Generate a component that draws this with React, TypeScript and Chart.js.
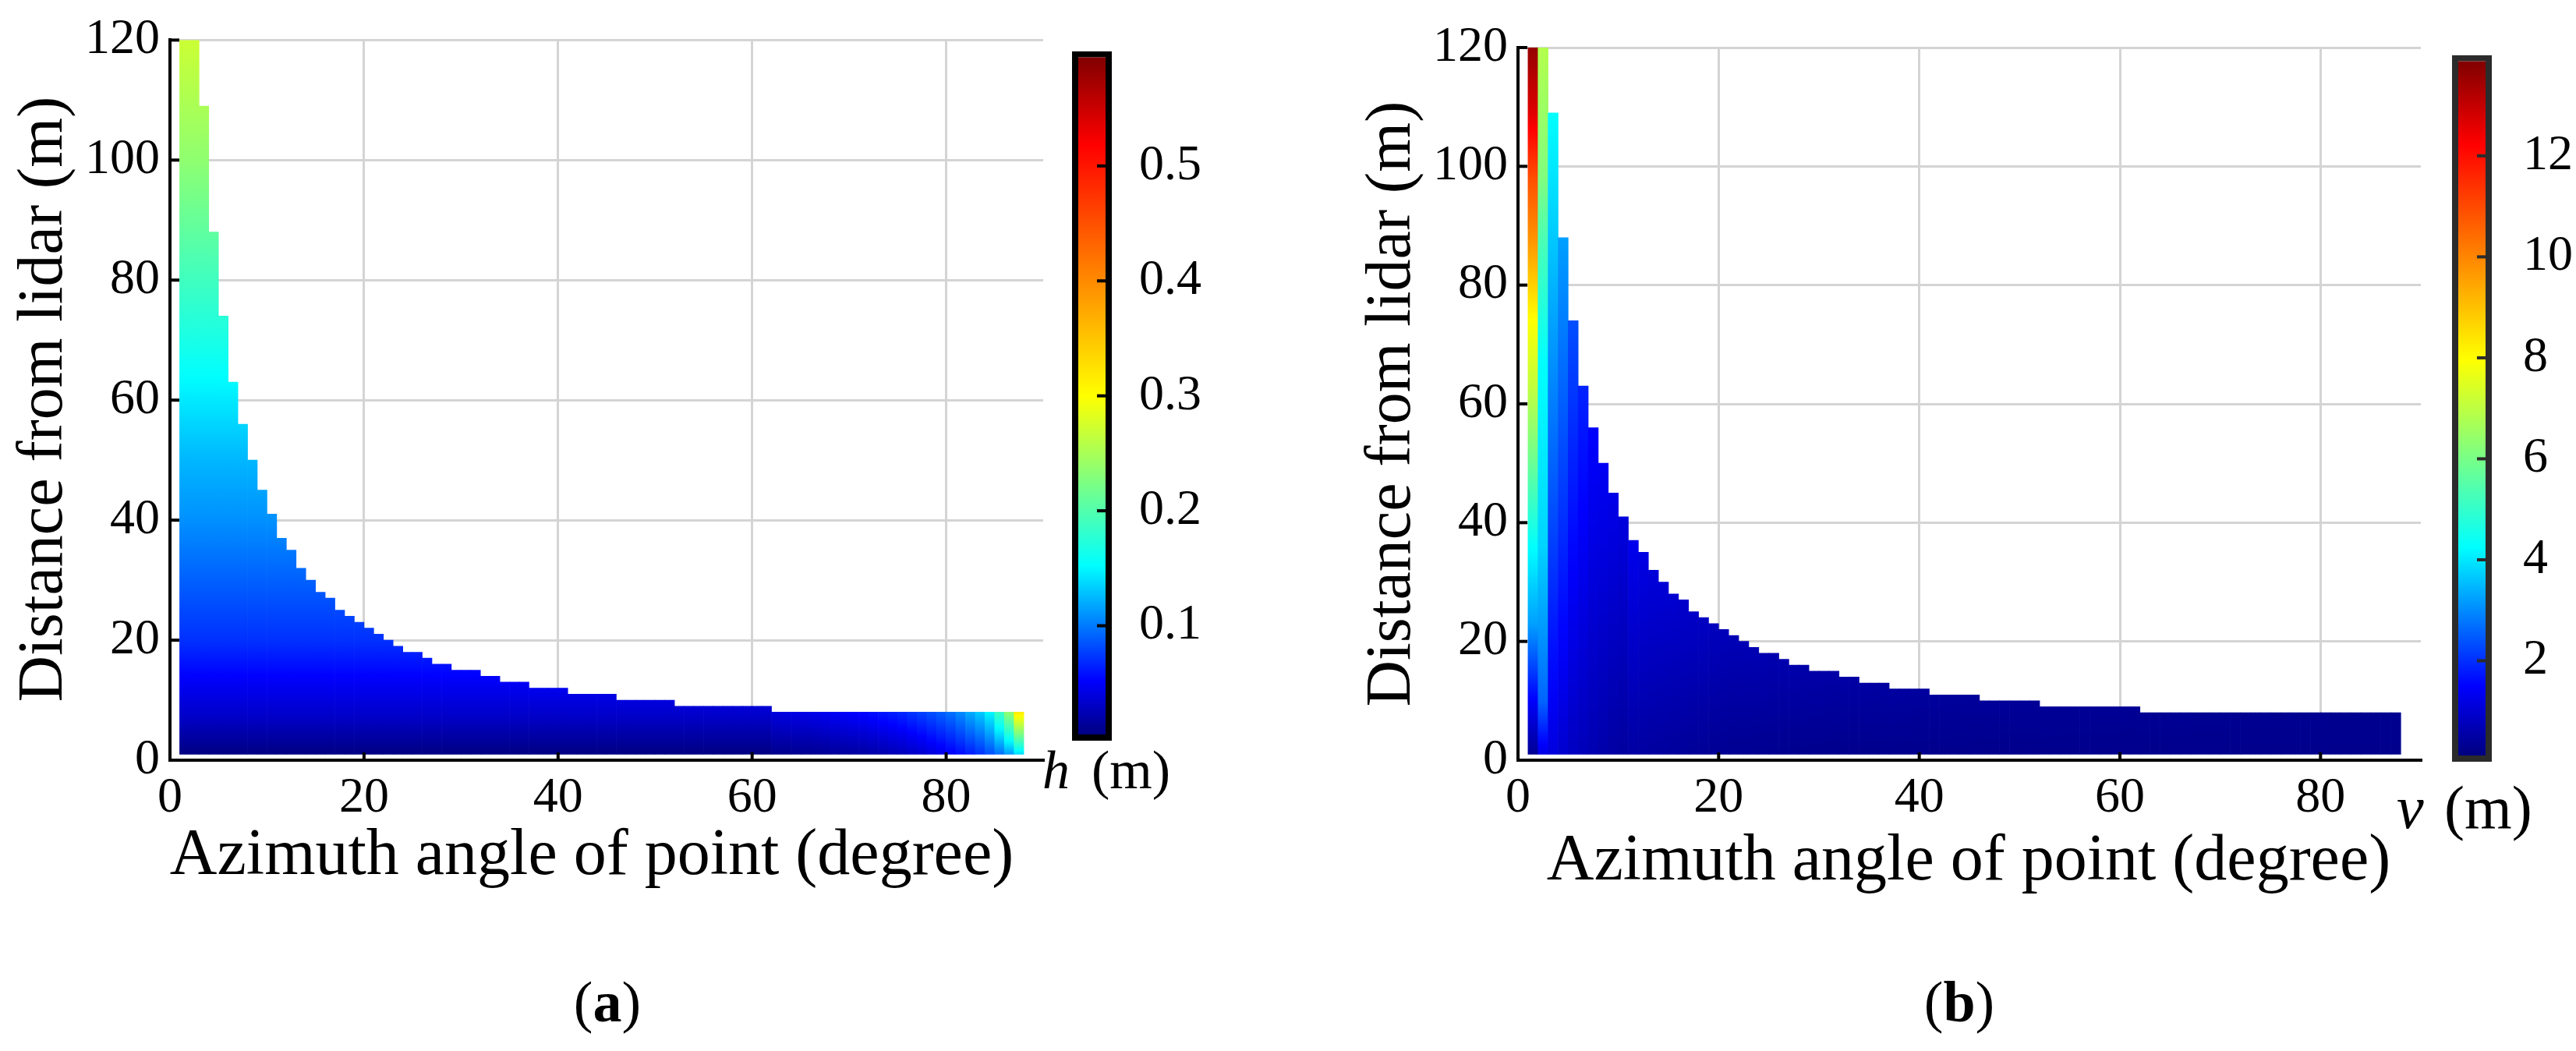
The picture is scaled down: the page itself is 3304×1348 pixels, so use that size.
import React, { useEffect, useRef } from "react";
import { Chart, registerables } from "chart.js";

Chart.register(...registerables);

const FONT = '"Liberation Serif", "Times New Roman", Times, serif';
const GRID = "#d4d4d4";

// ---------------- data ----------------
// azimuth cells: [angle, angle + 1] degrees
const angleStart = [
  1, 2, 3, 4, 5, 6, 7, 8, 9, 10, 11, 12, 13, 14, 15, 16, 17, 18, 19, 20,
  21, 22, 23, 24, 25, 26, 27, 28, 29, 30, 31, 32, 33, 34, 35, 36, 37, 38, 39, 40,
  41, 42, 43, 44, 45, 46, 47, 48, 49, 50, 51, 52, 53, 54, 55, 56, 57, 58, 59, 60,
  61, 62, 63, 64, 65, 66, 67, 68, 69, 70, 71, 72, 73, 74, 75, 76, 77, 78, 79, 80,
  81, 82, 83, 84, 85, 86, 87,
];
// largest distance (m) covered in each azimuth cell
const topDistance = [
  120, 120, 109, 88, 74, 63, 56, 50, 45, 41,
  37, 35, 32, 30, 28, 27, 25, 24, 23, 22,
  21, 20, 19, 18, 18, 17, 16, 16, 15, 15,
  15, 14, 14, 13, 13, 13, 12, 12, 12, 12,
  11, 11, 11, 11, 11, 10, 10, 10, 10, 10,
  10, 9, 9, 9, 9, 9, 9, 9, 9, 9,
  9, 8, 8, 8, 8, 8, 8, 8, 8, 8,
  8, 8, 8, 8, 8, 8, 8, 8, 8, 8,
  8, 8, 8, 8, 8, 8, 8,
];
const bottomDistance = 1;

const xTicks = [0, 20, 40, 60, 80];
const yTicks = [0, 20, 40, 60, 80, 100, 120];

// (a) h (m): values along distance (same for most azimuths)
const hProfileDist = [1, 7, 14, 20, 30, 40, 50, 60, 80, 100, 120];
const hProfile = [0.006, 0.031, 0.052, 0.071, 0.09, 0.109, 0.124, 0.144, 0.189, 0.235, 0.27];
// (a) near 90 degrees: h at the bottom (1 m) and top of each cell column
const hEdgeAngles = [62, 63, 64, 65, 66, 67, 68, 69, 70, 71, 72, 73, 74, 75, 76, 77, 78, 79, 80, 81, 82, 83, 84, 85, 86, 87];
const hEdgeTop = [0.04, 0.042, 0.043, 0.044, 0.045, 0.047, 0.049, 0.051, 0.053, 0.055, 0.058, 0.061, 0.064, 0.068, 0.073, 0.078, 0.084, 0.09, 0.097, 0.107, 0.12, 0.132, 0.15, 0.188, 0.236, 0.317];
const hEdgeBottom = [0.01, 0.01, 0.011, 0.011, 0.012, 0.013, 0.015, 0.016, 0.017, 0.018, 0.02, 0.022, 0.025, 0.027, 0.031, 0.034, 0.039, 0.044, 0.05, 0.056, 0.063, 0.071, 0.082, 0.095, 0.113, 0.138];
const hBarTicks = [0.1, 0.2, 0.3, 0.4, 0.5];
const hColorMin = 0.005;
const hColorMax = 0.595;
const hBarMin = 0;
const hBarMax = 0.6;

// (b) v (m): value at top and bottom of each azimuth column
const vTop = [
  13.6, 6.86, 4.27, 3.22, 2.34, 1.86, 1.5, 1.38, 1.26, 1.14,
  1.3, 1.2, 1.1, 1.05, 1.0, 0.95, 0.9, 0.85, 0.8, 0.75,
  0.72, 0.7, 0.68, 0.66, 0.64, 0.62, 0.6, 0.58, 0.56, 0.55,
  0.54, 0.53, 0.52, 0.51, 0.5, 0.49, 0.48, 0.47, 0.46, 0.45,
  0.44, 0.43, 0.42, 0.42, 0.41, 0.4, 0.4, 0.39, 0.39, 0.38,
  0.38, 0.37, 0.37, 0.36, 0.36, 0.36, 0.35, 0.35, 0.35, 0.34,
  0.34, 0.34, 0.33, 0.33, 0.33, 0.33, 0.32, 0.32, 0.32, 0.32,
  0.31, 0.31, 0.31, 0.31, 0.31, 0.31, 0.31, 0.31, 0.31, 0.31,
  0.3, 0.3, 0.3, 0.3, 0.3, 0.3, 0.3,
];
const vBottom = [
  0.34, 1.22, 1.14, 0.98, 0.82, 0.74, 0.66, 0.58, 0.5, 0.46,
  0.5, 0.48, 0.46, 0.44, 0.42, 0.4, 0.38, 0.36, 0.34, 0.32,
  0.3, 0.3, 0.29, 0.29, 0.28, 0.28, 0.27, 0.27, 0.26, 0.26,
  0.25, 0.25, 0.25, 0.25, 0.25, 0.25, 0.25, 0.25, 0.25, 0.25,
  0.25, 0.25, 0.25, 0.25, 0.25, 0.25, 0.25, 0.25, 0.25, 0.25,
  0.25, 0.25, 0.25, 0.25, 0.25, 0.25, 0.25, 0.25, 0.25, 0.25,
  0.25, 0.25, 0.25, 0.25, 0.25, 0.25, 0.25, 0.25, 0.25, 0.25,
  0.25, 0.25, 0.25, 0.25, 0.25, 0.25, 0.25, 0.25, 0.25, 0.25,
  0.25, 0.25, 0.25, 0.25, 0.25, 0.25, 0.25,
];
// (b) first two columns read at several distances
const vCol1Dist = [1, 10, 23, 36, 49, 63, 74, 88, 98, 109, 120];
const vCol1 = [0.34, 1.46, 3.22, 4.27, 5.67, 7.08, 7.94, 9.8, 10.91, 12.65, 13.61];
const vCol2Dist = [1, 10, 36, 67, 88, 98, 120];
const vCol2 = [1.22, 2.58, 3.78, 4.27, 5.35, 6.11, 6.86];
const vBarTicks = [2, 4, 6, 8, 10, 12];
const vColorMin = 0.12;
const vColorMax = 13.88;
const vBarMin = 0;
const vBarMax = 14;

const xTitle = "Azimuth angle of point (degree)";
const yTitle = "Distance from lidar (m)";

// colormap: navy, blue, cyan, yellow, red, dark red at these fractions
const hCmapStops = [0, 0.08, 0.25, 0.5, 0.87, 1];
const vCmapStops = [0, 0.1, 0.3, 0.57, 0.88, 1];
const CMAP_RGB = [
  [0, 0, 128],
  [0, 0, 255],
  [0, 255, 255],
  [255, 255, 0],
  [255, 0, 0],
  [128, 0, 0],
];

// ---------------- helpers ----------------
function cmap(f: number, stops: number[]): string {
  const t = Math.max(0, Math.min(1, f));
  let k = 0;
  while (k < stops.length - 2 && t > stops[k + 1]) k++;
  const u = (t - stops[k]) / (stops[k + 1] - stops[k]);
  const a = CMAP_RGB[k];
  const b = CMAP_RGB[k + 1];
  const c = [0, 1, 2].map((j) => Math.round(a[j] + (b[j] - a[j]) * u));
  return `rgb(${c[0]},${c[1]},${c[2]})`;
}

function lookup(xs: number[], ys: number[], x: number): number {
  if (x <= xs[0]) return ys[0];
  for (let k = 0; k < xs.length - 1; k++) {
    if (x <= xs[k + 1]) {
      const t = (x - xs[k]) / (xs[k + 1] - xs[k]);
      return ys[k] + (ys[k + 1] - ys[k]) * t;
    }
  }
  return ys[ys.length - 1];
}

function profileStops(xs: number[], ys: number[], top: number): number[][] {
  const s: number[][] = [];
  for (let k = 0; k < xs.length; k++) if (xs[k] < top) s.push([xs[k], ys[k]]);
  s.push([top, lookup(xs, ys, top)]);
  return s;
}

function hStops(i: number): number[][] {
  const a = angleStart[i];
  const top = topDistance[i];
  const e = hEdgeAngles.indexOf(a);
  if (e >= 0) return [[bottomDistance, hEdgeBottom[e]], [top, hEdgeTop[e]]];
  return profileStops(hProfileDist, hProfile, top);
}

function vStops(i: number): number[][] {
  const a = angleStart[i];
  const top = topDistance[i];
  if (a === 1) return profileStops(vCol1Dist, vCol1, top);
  if (a === 2) return profileStops(vCol2Dist, vCol2, top);
  return [[bottomDistance, vBottom[i]], [top, vTop[i]]];
}

function columnGradient(
  ctx: CanvasRenderingContext2D,
  yScale: any,
  stops: number[][],
  cMin: number,
  cMax: number,
  cm: number[]
) {
  const y0 = yScale.getPixelForValue(stops[0][0]);
  const y1 = yScale.getPixelForValue(stops[stops.length - 1][0]);
  const g = ctx.createLinearGradient(0, y0, 0, y1);
  const span = y1 - y0 || 1;
  for (let k = 0; k < stops.length - 1; k++) {
    const [da, va] = stops[k];
    const [db, vb] = stops[k + 1];
    const N = 12;
    for (let j = 0; j <= N; j++) {
      const t = j / N;
      const d = da + (db - da) * t;
      const v = va + (vb - va) * t;
      const pos = (yScale.getPixelForValue(d) - y0) / span;
      g.addColorStop(Math.max(0, Math.min(1, pos)), cmap((v - cMin) / (cMax - cMin), cm));
    }
  }
  return g;
}

type Panel = {
  stops: (i: number) => number[][];
  cMin: number;
  cMax: number;
  cm: number[];
  padding: { left: number; top: number; right: number; bottom: number };
  yAxisWidth: number;
  xAxisHeight: number;
  yTitlePos: [number, number];
  xTitlePos: [number, number];
  caption: { x: number; y: number; letter: string };
};

function decorPlugin(p: Panel) {
  return {
    id: "decor",
    afterDatasetsDraw(chart: any) {
      const { ctx, chartArea } = chart;
      const xs = chart.scales.x;
      const ys = chart.scales.y;
      ctx.save();
      ctx.strokeStyle = "#000";
      ctx.lineWidth = 4;
      yTicks.forEach((v) => {
        if (v === 0) return;
        const py = ys.getPixelForValue(v);
        ctx.beginPath();
        ctx.moveTo(chartArea.left, py);
        ctx.lineTo(chartArea.left + 12, py);
        ctx.stroke();
      });
      xTicks.forEach((v) => {
        if (v === 0) return;
        const px = xs.getPixelForValue(v);
        ctx.beginPath();
        ctx.moveTo(px, chartArea.bottom);
        ctx.lineTo(px, chartArea.bottom - 10);
        ctx.stroke();
      });
      ctx.fillStyle = "#000";
      ctx.font = `84px ${FONT}`;
      ctx.textAlign = "center";
      ctx.textBaseline = "alphabetic";
      ctx.fillText(xTitle, p.xTitlePos[0], p.xTitlePos[1]);
      ctx.save();
      ctx.translate(p.yTitlePos[0], p.yTitlePos[1]);
      ctx.rotate(-Math.PI / 2);
      ctx.font = `82px ${FONT}`;
      ctx.fillText(yTitle, 0, 0);
      ctx.restore();
      // caption "(a)" with bold letter
      ctx.textAlign = "left";
      const reg = `74px ${FONT}`;
      const bold = `bold 74px ${FONT}`;
      ctx.font = reg;
      const wl = ctx.measureText("(").width;
      const wr = ctx.measureText(")").width;
      ctx.font = bold;
      const wm = ctx.measureText(p.caption.letter).width;
      let x = p.caption.x - (wl + wm + wr) / 2;
      ctx.font = reg;
      ctx.fillText("(", x, p.caption.y);
      x += wl;
      ctx.font = bold;
      ctx.fillText(p.caption.letter, x, p.caption.y);
      x += wm;
      ctx.font = reg;
      ctx.fillText(")", x, p.caption.y);
      ctx.restore();
    },
  };
}

function mainConfig(p: Panel): any {
  return {
    type: "bar",
    data: {
      datasets: [
        {
          data: angleStart.map((a, i) => ({ x: a + 0.5, y: [bottomDistance, topDistance[i]] })),
          backgroundColor: (c: any) => {
            const ch = c.chart;
            const ys = ch.scales && ch.scales.y;
            if (!ys || c.dataIndex == null || !ch.chartArea) return "rgba(0,0,0,0)";
            return columnGradient(ch.ctx, ys, p.stops(c.dataIndex), p.cMin, p.cMax, p.cm);
          },
          borderWidth: 0,
          barPercentage: 1,
          categoryPercentage: 1,
        },
      ],
    },
    options: {
      responsive: false,
      animation: false,
      devicePixelRatio: 1,
      layout: { padding: p.padding },
      plugins: { legend: { display: false }, tooltip: { enabled: false } },
      scales: {
        x: {
          type: "linear",
          min: 0,
          max: 90,
          offset: false,
          afterBuildTicks: (s: any) => {
            s.ticks = xTicks.map((v) => ({ value: v }));
          },
          afterFit: (s: any) => {
            s.height = p.xAxisHeight;
          },
          grid: { color: GRID, lineWidth: 3, offset: false, drawTicks: false },
          border: { display: true, color: "#000", width: 4 },
          ticks: { font: { family: FONT, size: 64 }, color: "#000", padding: 11, maxRotation: 0, autoSkip: false },
        },
        y: {
          type: "linear",
          min: 0,
          max: 120,
          afterBuildTicks: (s: any) => {
            s.ticks = yTicks.map((v) => ({ value: v }));
          },
          afterFit: (s: any) => {
            s.width = p.yAxisWidth;
          },
          grid: { color: GRID, lineWidth: 3, drawTicks: false },
          border: { display: true, color: "#000", width: 4 },
          ticks: { font: { family: FONT, size: 64 }, color: "#000", padding: 13, autoSkip: false },
        },
      },
    },
    plugins: [decorPlugin(p)],
  };
}

type BarCfg = {
  min: number;
  max: number;
  cMin: number;
  cMax: number;
  cm: number[];
  ticks: number[];
  padding: { left: number; top: number; right: number; bottom: number };
  axisWidth: number;
  labelPad: number;
  frame: string;
  unit: { letter: string; x: number; mx: number; y: number; size: number };
};

function colorbarConfig(b: BarCfg): any {
  const plugin = {
    id: "cbdecor",
    afterDatasetsDraw(chart: any) {
      const { ctx, chartArea } = chart;
      const ys = chart.scales.y;
      ctx.save();
      ctx.strokeStyle = b.frame;
      ctx.lineWidth = 4;
      b.ticks.forEach((v) => {
        const py = ys.getPixelForValue(v);
        ctx.beginPath();
        ctx.moveTo(chartArea.right - 8 - 11, py);
        ctx.lineTo(chartArea.right - 8, py);
        ctx.stroke();
      });
      ctx.fillStyle = "#000";
      ctx.textBaseline = "alphabetic";
      ctx.textAlign = "left";
      ctx.font = `italic ${b.unit.size}px ${FONT}`;
      ctx.fillText(b.unit.letter, b.unit.x, b.unit.y);
      ctx.font = `${b.unit.size}px ${FONT}`;
      ctx.fillText("(m)", b.unit.mx, b.unit.y);
      ctx.restore();
    },
  };
  return {
    type: "bar",
    data: {
      labels: [""],
      datasets: [
        {
          data: [[b.min, b.max]],
          backgroundColor: (c: any) => {
            const ch = c.chart;
            const ys = ch.scales && ch.scales.y;
            if (!ys || !ch.chartArea) return "rgba(0,0,0,0)";
            const y0 = ys.getPixelForValue(b.cMin);
            const y1 = ys.getPixelForValue(b.cMax);
            const g = ch.ctx.createLinearGradient(0, y0, 0, y1);
            b.cm.forEach((f) => g.addColorStop(f, cmap(f, b.cm)));
            return g;
          },
          borderColor: b.frame,
          borderWidth: 8,
          borderSkipped: false,
          inflateAmount: 0,
          barPercentage: 1,
          categoryPercentage: 1,
        },
      ],
    },
    options: {
      responsive: false,
      animation: false,
      devicePixelRatio: 1,
      layout: { padding: b.padding },
      plugins: { legend: { display: false }, tooltip: { enabled: false } },
      scales: {
        x: { display: false },
        y: {
          position: "right",
          min: b.min,
          max: b.max,
          afterBuildTicks: (s: any) => {
            s.ticks = b.ticks.map((v) => ({ value: v }));
          },
          afterFit: (s: any) => {
            s.width = b.axisWidth;
          },
          grid: { display: false },
          border: { display: false },
          ticks: { font: { family: FONT, size: 64 }, color: "#000", padding: b.labelPad, autoSkip: false },
        },
      },
    },
    plugins: [plugin],
  };
}

// ---------------- component ----------------
export default function App() {
  const aMain = useRef<HTMLCanvasElement>(null);
  const aBar = useRef<HTMLCanvasElement>(null);
  const bMain = useRef<HTMLCanvasElement>(null);
  const bBar = useRef<HTMLCanvasElement>(null);

  useEffect(() => {
    const charts: Chart[] = [];
    const panelA: Panel = {
      stops: hStops,
      cMin: hColorMin,
      cMax: hColorMax,
      cm: hCmapStops,
      padding: { left: 0, top: 45, right: 12, bottom: 0 },
      yAxisWidth: 218,
      xAxisHeight: 373,
      yTitlePos: [79, 512],
      xTitlePos: [759, 1121],
      caption: { x: 779, y: 1310, letter: "a" },
    };
    const panelB: Panel = {
      stops: vStops,
      cMin: vColorMin,
      cMax: vColorMax,
      cm: vCmapStops,
      padding: { left: 0, top: 61, right: 15, bottom: 0 },
      yAxisWidth: 287,
      xAxisHeight: 373,
      yTitlePos: [148, 518],
      xTitlePos: [865, 1128],
      caption: { x: 853, y: 1310, letter: "b" },
    };
    const barA: BarCfg = {
      min: hBarMin,
      max: hBarMax,
      cMin: hColorMin,
      cMax: hColorMax,
      cm: hCmapStops,
      ticks: hBarTicks,
      padding: { left: 75, top: 47, right: 0, bottom: 150 },
      axisWidth: 226,
      labelPad: 27,
      frame: "#000",
      unit: { letter: "h", x: 37, mx: 100, y: 1011, size: 70 },
    };
    const barB: BarCfg = {
      min: vBarMin,
      max: vBarMax,
      cMin: vColorMin,
      cMax: vColorMax,
      cm: vCmapStops,
      ticks: vBarTicks,
      padding: { left: 105, top: 70, right: 0, bottom: 123 },
      axisWidth: 108,
      labelPad: 32,
      frame: "#2b2b2b",
      unit: { letter: "v", x: 34, mx: 95, y: 1062, size: 78 },
    };
    if (aMain.current) charts.push(new Chart(aMain.current, mainConfig(panelA)));
    if (bMain.current) charts.push(new Chart(bMain.current, mainConfig(panelB)));
    if (aBar.current) charts.push(new Chart(aBar.current, colorbarConfig(barA)));
    if (bBar.current) charts.push(new Chart(bBar.current, colorbarConfig(barB)));
    return () => charts.forEach((c) => c.destroy());
  }, []);

  const cv = (left: number, w: number, h: number): React.CSSProperties => ({
    position: "absolute",
    left,
    top: 0,
    width: w,
    height: h,
  });

  return (
    <div
      style={{
        position: "absolute",
        left: 0,
        top: 0,
        width: 3304,
        height: 1348,
        background: "#fff",
        overflow: "hidden",
      }}
    >
      <canvas ref={aMain} width={1350} height={1348} style={cv(0, 1350, 1348)} />
      <canvas ref={bMain} width={1460} height={1348} style={cv(1660, 1460, 1348)} />
      <canvas ref={aBar} width={352} height={1100} style={cv(1300, 352, 1100)} />
      <canvas ref={bBar} width={264} height={1100} style={cv(3040, 264, 1100)} />
    </div>
  );
}
